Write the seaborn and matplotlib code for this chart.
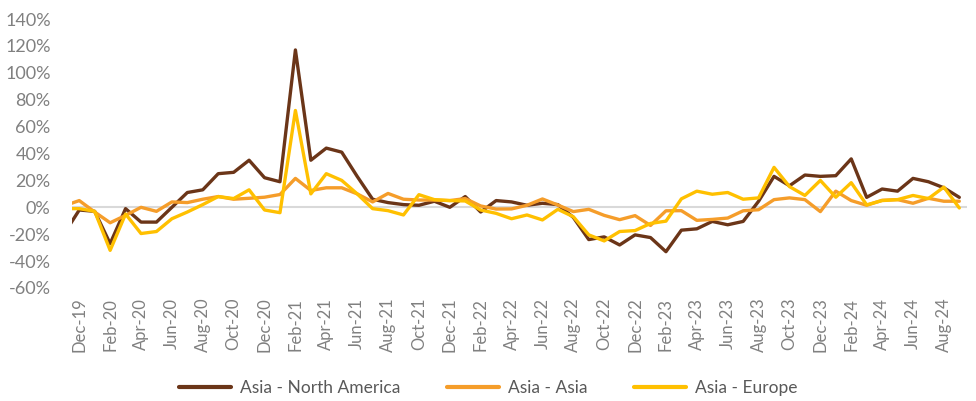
import numpy as np
import pandas as pd
import matplotlib
matplotlib.use("Agg")
import matplotlib.pyplot as plt
import seaborn as sns

# Monthly data, Nov-19 (only partly visible) to Sep-24
months = pd.date_range("2019-11-01", periods=59, freq="MS").strftime("%b-%y").tolist()

north_america = [-20, -2, -3, -27, -1, -11, -11, 0, 11, 13, 25, 26, 35, 22, 19, 117, 35, 44, 41, 23,
                 6, 3.5, 2, 1.5, 4.5, 0, 8, -3.5, 5, 4, 1.5, 3, 2, -7.5, -24, -22, -28, -20.5, -22.5, -33,
                 -17, -16, -10.5, -13, -10.5, 4.5, 23, 16, 24, 23, 23.5, 36, 7.4, 13.6, 12, 21.5, 19, 14.5, 7.4]
asia_asia = [1, 5, -3.5, -11.5, -6, 0, -3, 4, 3.5, 6, 8, 6, 6.7, 7.5, 9.5, 21.5, 12.5, 14.5, 14.5, 10,
             4, 10.3, 6, 5.4, 5.4, 5, 6.5, 1, -1.3, -1.2, 1.5, 6.2, 1.7, -3.2, -1.5, -6, -9.2, -6.2, -13.5, -2.6,
             -2.5, -9.7, -9, -8, -2.6, -1.8, 5.7, 7, 5.7, -3.2, 12, 5, 1.5, 5.2, 5.7, 3, 6.7, 4.5, 4.5]
asia_europe = [-1, -1, -3, -32, -5, -19.5, -18, -8.5, -3.5, 2, 8, 6.5, 13, -2, -4, 72, 10, 25, 20, 10,
               -1, -2.5, -5.7, 9.4, 5.7, 5, 4.7, -2, -4.5, -8.5, -5.7, -9.4, -1.5, -7, -20.5, -25, -18, -17.3, -12, -10.3,
               6.3, 12, 9.7, 11, 6, 7, 29.7, 15.4, 8.8, 20, 7.5, 18.3, 1.8, 5, 5.7, 8.8, 6.5, 15, -0.5]

series_names = ["Asia - North America", "Asia - Asia", "Asia - Europe"]
colors = ["#6B3518", "#F59D2A", "#FFC000"]
y_ticks = list(range(-60, 141, 20))

idx = np.arange(len(months))
df = pd.concat([
    pd.DataFrame({"idx": idx, "value": vals, "route": name})
    for name, vals in zip(series_names, [north_america, asia_asia, asia_europe])
], ignore_index=True)

sns.set_style("white")
plt.rcParams["font.family"] = ["Lato", "DejaVu Sans"]

fig = plt.figure(figsize=(9.76, 4.01), dpi=100)
ax = fig.add_axes([0.0733, 0.2818, 0.9175, 0.6708])

ax.axhline(0, color="#D9D9D9", lw=1.5, zorder=0)
sns.lineplot(data=df, x="idx", y="value", hue="route", hue_order=series_names,
             palette=colors, linewidth=2.4, ax=ax, legend=True)

ax.set_xlim(0.5, len(months) - 0.5)
ax.set_ylim(-60, 140)
tick_pos = idx[1::2]
ax.set_xticks(tick_pos)
ax.set_xticklabels([months[i] for i in tick_pos], rotation=90, fontsize=12, color="#808080")
ax.set_yticks(y_ticks)
ax.set_yticklabels([f"{t}%" for t in y_ticks], fontsize=13, color="#808080")
ax.tick_params(axis="both", length=0)
ax.tick_params(axis="y", pad=15)
ax.tick_params(axis="x", pad=7)
ax.set_xlabel("")
ax.set_ylabel("")
for s in ax.spines.values():
    s.set_visible(False)

handles, labels = ax.get_legend_handles_labels()
ax.get_legend().remove()
leg = fig.legend(handles, labels, loc="center", bbox_to_anchor=(0.50, 0.032), ncol=3,
                 frameon=False, fontsize=12.5, handlelength=3.0, columnspacing=2.7, handletextpad=0.5)
for t in leg.get_texts():
    t.set_color("#595959")
for h in leg.get_lines():
    h.set_linewidth(3)

fig.savefig("out.png", dpi=100)
